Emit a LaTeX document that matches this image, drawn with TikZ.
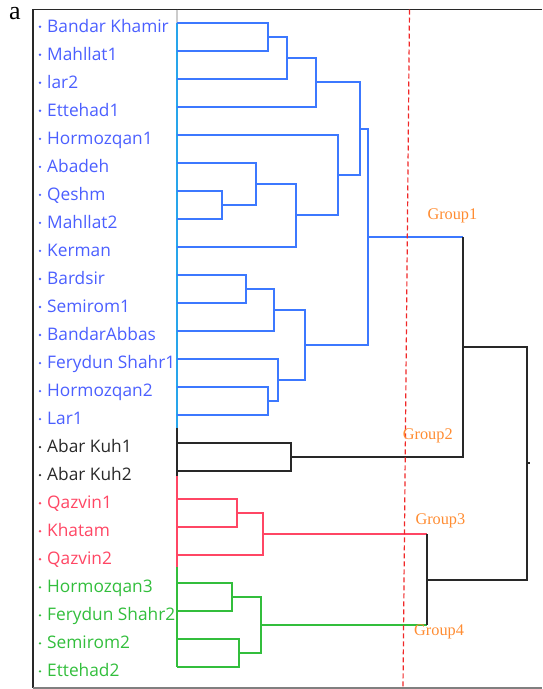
\documentclass[tikz,border=0pt]{standalone}
\usepackage{fontspec}
\setmainfont{Liberation Serif}
\newfontfamily\leaffont{Open Sans}
\usetikzlibrary{calc}

\definecolor{treeblue}{RGB}{60,120,255}
\definecolor{barblue}{RGB}{40,165,235}
\definecolor{leafblue}{RGB}{75,95,255}
\definecolor{treered}{RGB}{255,70,100}
\definecolor{treegreen}{RGB}{50,190,60}
\definecolor{treeblack}{RGB}{40,40,40}
\definecolor{grouporange}{RGB}{255,140,50}
\definecolor{cutred}{RGB}{240,40,40}

\tikzset{
  treelink/.style={line width=1.9pt},
  bline/.style={treelink, treeblue},
  rline/.style={treelink, treered},
  gline/.style={treelink, treegreen},
  kline/.style={treelink, treeblack},
  leaflabel/.style={anchor=base west, inner sep=0, font=\leaffont\fontsize{17.3}{20}\selectfont},
  grouplabel/.style={anchor=base west, inner sep=0, text=grouporange, font=\fontsize{16.3}{18}\selectfont},
  cutline/.style={cutred, line width=1.2pt, dash pattern=on 5pt off 3pt}
}

\begin{document}
\begin{tikzpicture}[x=1pt, y=-1pt]
    \useasboundingbox (0,0) rectangle (542,689);
    \draw[treeblack, line width=1.4pt] (542,9.5) -- (33,9.5) -- (33,688);
    \draw[gray, line width=1.2pt] (33,688) -- (542,688);
    \node[anchor=base west, inner sep=0, font=\fontsize{26}{26}\selectfont] (tag) at (9,19.5) {a};

    \foreach \name/\col [count=\i from 0] in {Bandar Khamir/leafblue, Mahllat1/leafblue, lar2/leafblue, Ettehad1/leafblue, Hormozqan1/leafblue, Abadeh/leafblue, Qeshm/leafblue, Mahllat2/leafblue, Kerman/leafblue, Bardsir/leafblue, Semirom1/leafblue, BandarAbbas/leafblue, Ferydun Shahr1/leafblue, Hormozqan2/leafblue, Lar1/leafblue, Abar Kuh1/treeblack, Abar Kuh2/treeblack, Qazvin1/treered, Khatam/treered, Qazvin2/treered, Hormozqan3/treegreen, Ferydun Shahr2/treegreen, Semirom2/treegreen, Ettehad2/treegreen} {
        \pgfmathsetmacro\yy{22.7+28.03*\i}
        \coordinate (l\i) at (177,\yy);
        \fill[\col] (40,\yy+4) circle (1.3);
        \node[leaflabel, text=\col] (n\i) at (47,\yy+9.5) {\name};
    }

    \draw[treelink, gray!40] (177,9.5) -- (l0);
    \draw[treelink, barblue] (l0) -- (177,427.7);
    \draw[treelink, treeblack] (177,427.7) -- (177,476);
    \draw[treelink, treered] (177,476) -- (177,567);
    \draw[treelink, treegreen] (177,567) -- (l23);

    \coordinate (b1) at (268,36.7);
    \coordinate (b2) at (287,57.7);
    \coordinate (b3) at (316,82.3);
    \coordinate (b4) at (222.3,204.9);
    \coordinate (b5) at (255.7,183.9);
    \coordinate (b6) at (296,215.4);
    \coordinate (b7) at (338.3,175.1);
    \coordinate (b8) at (360,128.7);
    \coordinate (b9) at (246,289);
    \coordinate (b10) at (274,310);
    \coordinate (b11) at (268.3,401.1);
    \coordinate (b12) at (278.3,380.1);
    \coordinate (b13) at (305,345);
    \coordinate (b14) at (368.3,236.9);
    \coordinate (k1) at (291,457.2);
    \coordinate (k2) at (462.7,347);
    \coordinate (r1) at (236.7,513.2);
    \coordinate (r2) at (262.7,534.2);
    \coordinate (g1) at (231.7,597.3);
    \coordinate (g2) at (239.3,653.4);
    \coordinate (g3) at (260.7,625.3);
    \coordinate (k3) at (426.7,579.8);
    \coordinate (root) at (527.3,463.4);

    \draw[bline] (l0) -| (b1);
    \draw[bline] (l1) -| (b1);
    \draw[bline] (b1) -| (b2);
    \draw[bline] (l2) -| (b2);
    \draw[bline] (b2) -| (b3);
    \draw[bline] (l3) -| (b3);
    \draw[bline] (l6) -| (b4);
    \draw[bline] (l7) -| (b4);
    \draw[bline] (l5) -| (b5);
    \draw[bline] (b4) -| (b5);
    \draw[bline] (b5) -| (b6);
    \draw[bline] (l8) -| (b6);
    \draw[bline] (l4) -| (b7);
    \draw[bline] (b6) -| (b7);
    \draw[bline] (b3) -| (b8);
    \draw[bline] (b7) -| (b8);
    \draw[bline] (l9) -| (b9);
    \draw[bline] (l10) -| (b9);
    \draw[bline] (b9) -| (b10);
    \draw[bline] (l11) -| (b10);
    \draw[bline] (l13) -| (b11);
    \draw[bline] (l14) -| (b11);
    \draw[bline] (l12) -| (b12);
    \draw[bline] (b11) -| (b12);
    \draw[bline] (b10) -| (b13);
    \draw[bline] (b12) -| (b13);
    \draw[bline] (b8) -| (b14);
    \draw[bline] (b13) -| (b14);

    \draw[kline] (l15) -| (k1);
    \draw[kline] (l16) -| (k1);
    \draw[bline] (b14) -- (b14 -| k2);
    \draw[kline] (k1) -| (k2) -- (k2 |- b14);

    \draw[rline] (l17) -| (r1);
    \draw[rline] (l18) -| (r1);
    \draw[rline] (r1) -| (r2);
    \draw[rline] (l19) -| (r2);
    \draw[gline] (l20) -| (g1);
    \draw[gline] (l21) -| (g1);
    \draw[gline] (l22) -| (g2);
    \draw[gline] (l23) -| (g2);
    \draw[gline] (g1) -| (g3);
    \draw[gline] (g2) -| (g3);
    \draw[rline] (r2) -- (r2 -| k3);
    \draw[gline] (g3) -- (g3 -| k3);
    \draw[kline] (r2 -| k3) -- (g3 -| k3);

    \draw[kline] (k2) -| (root) |- (k3);
    \draw[kline] (root) -- ++(3,0);

    \draw[cutline] (409.5,9.5) -- (403,688);

    \node[grouplabel] (grp1) at (427.3,219.2) {Group1};
    \node[grouplabel] (grp2) at (402.7,439.8) {Group2};
    \node[grouplabel] (grp3) at (415.3,524.8) {Group3};
    \node[grouplabel] (grp4) at (414,635.5) {Group4};
\end{tikzpicture}
\end{document}
